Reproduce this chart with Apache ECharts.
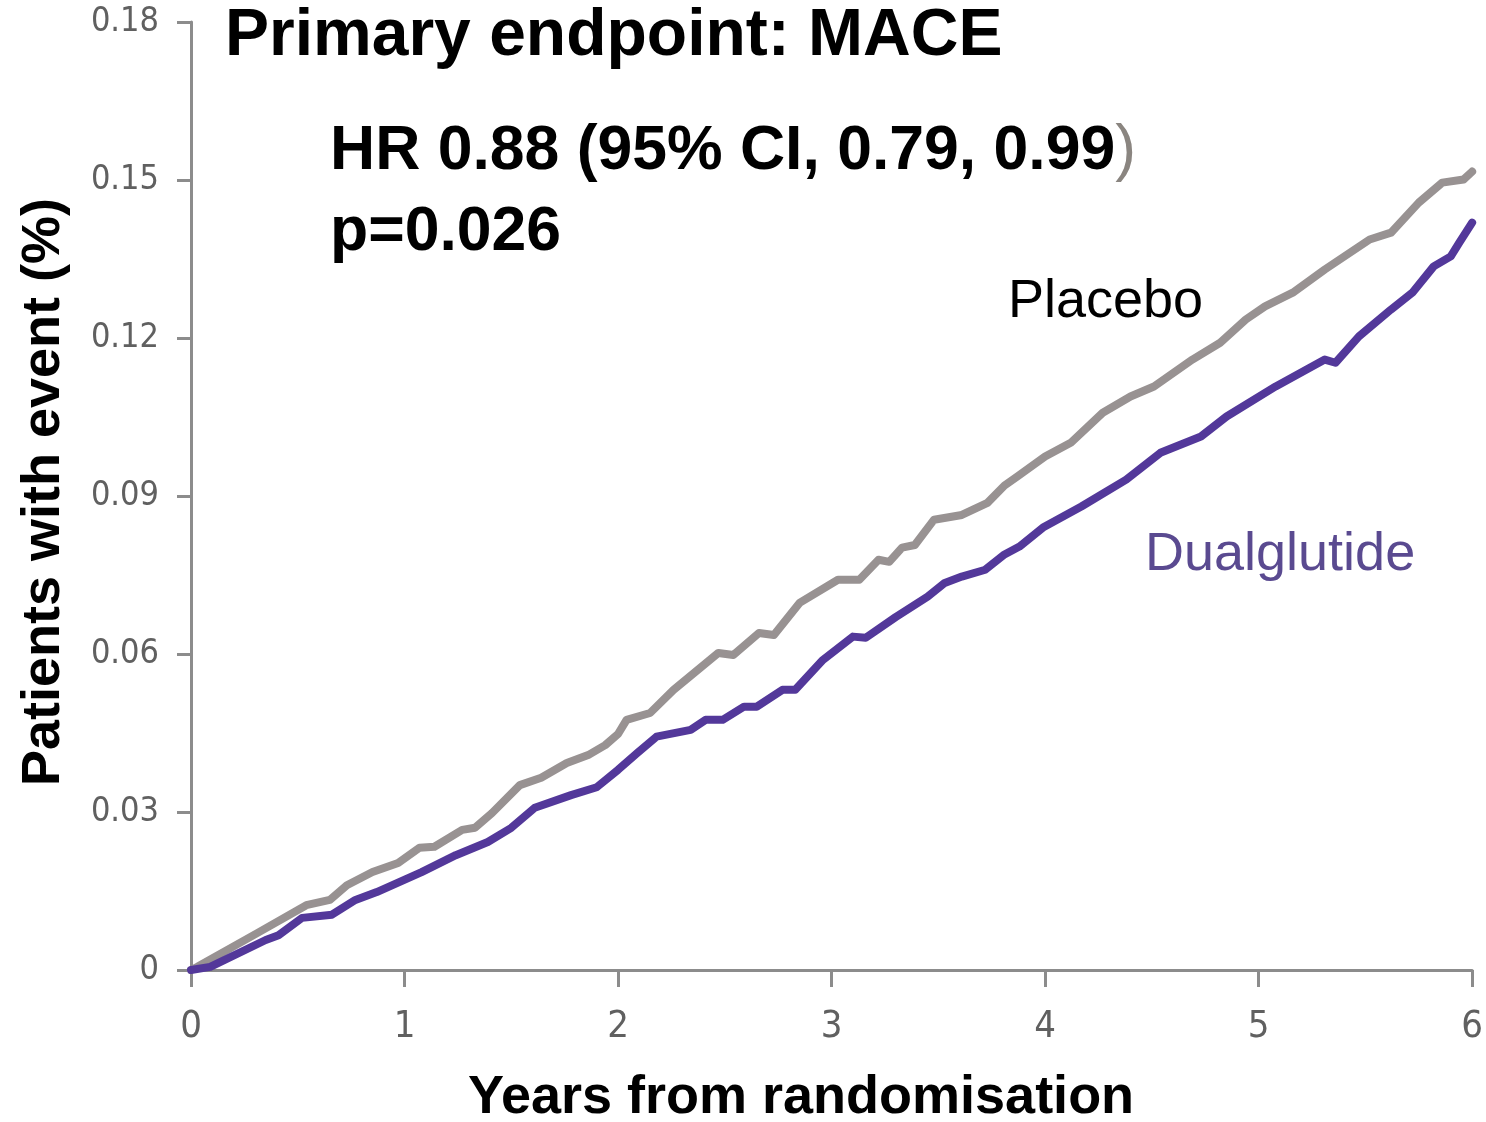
<!DOCTYPE html>
<html>
<head>
<meta charset="utf-8">
<script src="https://cdn.jsdelivr.net/npm/echarts@6/dist/echarts.min.js"></script>
<style>
html,body{margin:0;padding:0;background:#fff;}
#chart{width:1486px;height:1122px;}
</style>
</head>
<body>
<div id="chart"></div>
<script>
const placeboYears = [0,0.03,0.31,0.54,0.65,0.73,0.85,0.97,1.07,1.14,1.27,1.33,1.41,1.54,1.64,1.76,1.86,1.94,2.00,2.04,2.15,2.26,2.47,2.54,2.66,2.73,2.85,3.03,3.13,3.22,3.27,3.33,3.39,3.48,3.61,3.73,3.81,3.87,4.00,4.12,4.27,4.40,4.51,4.69,4.82,4.94,5.03,5.16,5.31,5.52,5.62,5.75,5.86,5.96,6.00];
const placeboValues = [0,0.0006,0.0070,0.0123,0.0133,0.0161,0.0186,0.0203,0.0232,0.0234,0.0266,0.0270,0.0298,0.0351,0.0365,0.0393,0.0408,0.0427,0.0448,0.0475,0.0488,0.0532,0.0602,0.0598,0.0640,0.0636,0.0697,0.0741,0.0741,0.0779,0.0775,0.0802,0.0807,0.0855,0.0864,0.0887,0.0920,0.0937,0.0975,0.1001,0.1058,0.1089,0.1108,0.1159,0.1191,0.1235,0.1260,0.1286,0.1330,0.1387,0.1400,0.1457,0.1495,0.1501,0.1516];
const dualYears = [0,0.09,0.35,0.41,0.52,0.66,0.77,0.87,1.08,1.24,1.39,1.50,1.61,1.78,1.90,2.00,2.09,2.18,2.34,2.41,2.49,2.59,2.65,2.77,2.83,2.96,3.10,3.16,3.30,3.45,3.53,3.61,3.72,3.81,3.88,3.99,4.17,4.38,4.54,4.73,4.85,5.08,5.31,5.36,5.47,5.62,5.72,5.82,5.90,5.94,6.00];
const dualValues = [0,0.0006,0.0057,0.0066,0.0099,0.0105,0.0133,0.0148,0.0186,0.0218,0.0243,0.0270,0.0308,0.0332,0.0347,0.0380,0.0412,0.0443,0.0456,0.0475,0.0475,0.0500,0.0500,0.0532,0.0532,0.0589,0.0633,0.0631,0.0670,0.0709,0.0735,0.0747,0.0760,0.0789,0.0804,0.0840,0.0880,0.0931,0.0982,0.1013,0.1051,0.1108,0.1159,0.1153,0.1203,0.1254,0.1286,0.1336,0.1355,0.1381,0.1419];
const yTickLabels = ['0','0.03','0.06','0.09','0.12','0.15','0.18'];
const xTickLabels = ['0','1','2','3','4','5','6'];

const zip = (xs, ys) => xs.map((x, i) => [x, ys[i]]);
const tickFont = '"Liberation Sans Narrow","DejaVu Sans Condensed","Roboto Condensed",sans-serif';
const mainFont = '"Liberation Sans",Arial,sans-serif';

const chart = echarts.init(document.getElementById('chart'), null, {renderer: 'canvas'});
chart.setOption({
  animation: false,
  backgroundColor: '#ffffff',
  grid: {left: 191, right: 5, top: 22, bottom: 152, containLabel: false},
  xAxis: {
    type: 'value', min: 0, max: 6, interval: 1,
    axisLine: {show: true, lineStyle: {color: '#8c8c8c', width: 3}},
    axisTick: {show: true, length: 17, lineStyle: {color: '#8c8c8c', width: 3}},
    splitLine: {show: false},
    axisLabel: {
      margin: 38, fontSize: 38, color: '#606060', fontFamily: tickFont,
      formatter: v => xTickLabels[Math.round(v)]
    }
  },
  yAxis: {
    type: 'value', min: 0, max: 0.18, interval: 0.03,
    axisLine: {show: true, lineStyle: {color: '#8c8c8c', width: 3}},
    axisTick: {show: true, length: 14, lineStyle: {color: '#8c8c8c', width: 3}},
    splitLine: {show: false},
    axisLabel: {
      margin: 32, fontSize: 34, color: '#606060', fontFamily: tickFont,
      formatter: v => yTickLabels[Math.round(v / 0.03)]
    }
  },
  series: [
    {
      name: 'Placebo', type: 'line', data: zip(placeboYears, placeboValues),
      showSymbol: false, symbol: 'none', smooth: false,
      lineStyle: {color: '#989292', width: 8, join: 'round', cap: 'round'}, z: 2
    },
    {
      name: 'Dualglutide', type: 'line', data: zip(dualYears, dualValues),
      showSymbol: false, symbol: 'none', smooth: false,
      lineStyle: {color: '#53389a', width: 8, join: 'round', cap: 'round'}, z: 3
    }
  ],
  graphic: [
    {type: 'text', x: 225, y: 37, style: {text: 'Primary endpoint: MACE', fontSize: 66, fontWeight: 'bold', fill: '#000', fontFamily: mainFont, textAlign: 'left', textVerticalAlign: 'middle'}},
    {type: 'text', x: 330, y: 152, style: {
      text: '{a|HR 0.88 (95% CI, 0.79, 0.99}{g|)}',
      textAlign: 'left', textVerticalAlign: 'middle',
      rich: {
        a: {fontSize: 62.5, fontWeight: 'bold', fill: '#000', color: '#000', fontFamily: mainFont},
        g: {fontSize: 62.5, fontWeight: 'normal', fill: '#8a8580', color: '#8a8580', fontFamily: mainFont}
      }
    }},
    {type: 'text', x: 330, y: 233, style: {text: 'p=0.026', fontSize: 62.5, fontWeight: 'bold', fill: '#000', fontFamily: mainFont, textAlign: 'left', textVerticalAlign: 'middle'}},
    {type: 'text', x: 1008, y: 302, style: {text: 'Placebo', fontSize: 54, fill: '#000', fontFamily: mainFont, textAlign: 'left', textVerticalAlign: 'middle'}},
    {type: 'text', x: 1145, y: 555, style: {text: 'Dualglutide', fontSize: 54, fill: '#5a4a90', fontFamily: mainFont, textAlign: 'left', textVerticalAlign: 'middle'}},
    {type: 'text', x: 44, y: 492, rotation: Math.PI / 2, style: {text: 'Patients with event (%)', fontSize: 54, fontWeight: 'bold', fill: '#000', fontFamily: mainFont, textAlign: 'center', textVerticalAlign: 'middle'}},
    {type: 'text', x: 801, y: 1098, style: {text: 'Years from randomisation', fontSize: 54, fontWeight: 'bold', fill: '#000', fontFamily: mainFont, textAlign: 'center', textVerticalAlign: 'middle'}}
  ]
});
</script>
</body>
</html>
